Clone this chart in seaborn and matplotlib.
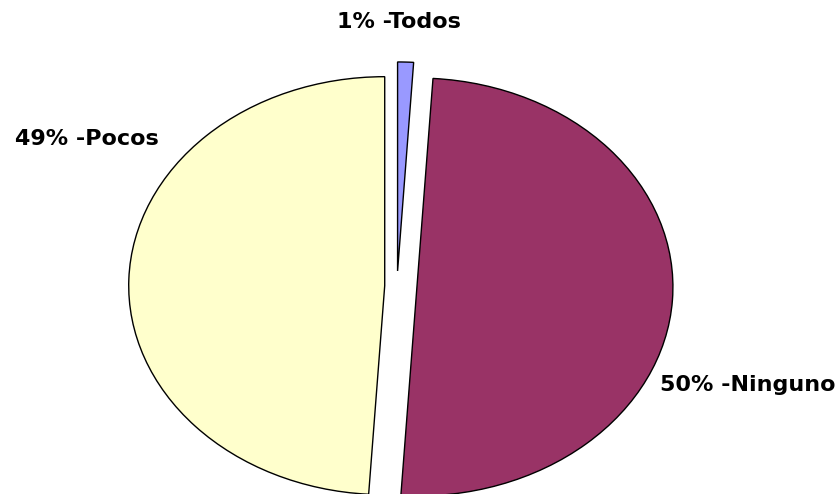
import matplotlib
matplotlib.use("Agg")
import matplotlib.pyplot as plt
import seaborn as sns

# Survey answer shares (percent)
categories = ["Todos", "Ninguno", "Pocos"]
shares = [1, 50, 49]
slice_colors = ["#9999FF", "#993366", "#FFFFCC"]
explode = [0.072, 0.078, 0.048]

sns.set_theme(style="white")
plt.rcParams["font.family"] = ["DejaVu Sans"]
palette = sns.color_palette(slice_colors)

fig = plt.figure(figsize=(8.38, 4.94), dpi=100)
ax = fig.add_axes([0, 0, 1, 1])

ax.pie(
    shares,
    explode=explode,
    colors=palette,
    startangle=90,
    counterclock=False,
    wedgeprops=dict(edgecolor="black", linewidth=1.0),
)

# Stretched (elliptical) pie, clipped at the bottom edge
ax.set_aspect("auto")
ax.set_xlim(-397 / 256, (838 - 397) / 256)
ax.set_ylim(-(494 - 286) / 209, 286 / 209)
ax.axis("off")

label_pos = {
    "Todos": (337, 28),
    "Pocos": (15, 145),
    "Ninguno": (660, 391),
}
for cat, val in zip(categories, shares):
    px, py = label_pos[cat]
    ax.text(px / 838, 1 - py / 494, f"{val}% -{cat}",
            transform=ax.transAxes, ha="left", va="baseline",
            fontsize=16, fontweight="bold", color="black")

fig.savefig("out.png", dpi=100, facecolor="white")
